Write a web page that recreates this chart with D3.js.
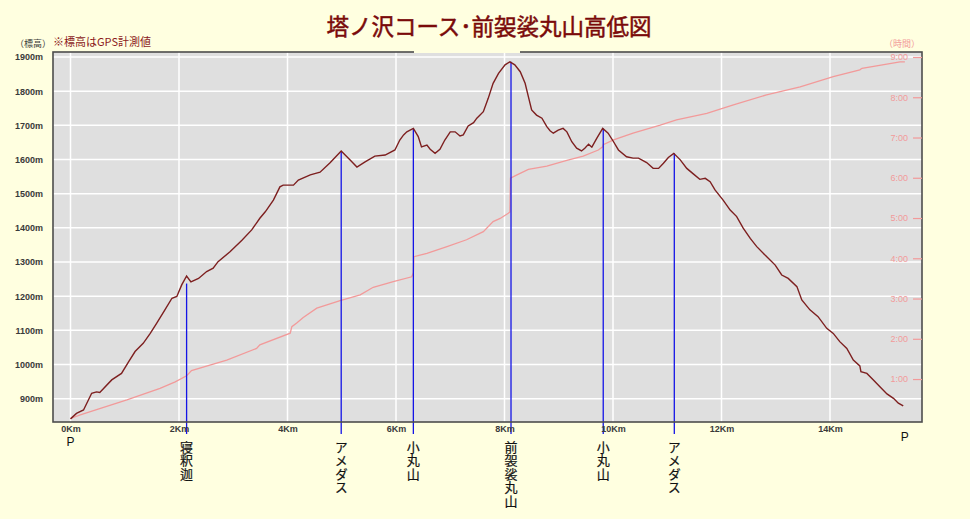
<!DOCTYPE html>
<html>
<head>
<meta charset="utf-8">
<script src="https://cdn.jsdelivr.net/npm/d3@7"></script>
<style>
  html, body { margin: 0; padding: 0; background: #ffffe0; }
  svg { display: block; }
</style>
</head>
<body>
<svg id="chart" width="970" height="519"></svg>
<script>
// ---- data ----
const titleText = "塔ノ沢コース･前袈裟丸山高低図";
const noteText = "※標高はGPS計測値";
const leftUnit = "（標高）";
const rightUnit = "（時間）";

const distKm = [0.00,0.11,0.24,0.39,0.48,0.54,0.76,0.94,1.07,1.19,1.34,1.47,1.59,1.74,1.87,1.96,2.05,2.14,2.22,2.36,2.51,2.63,2.72,2.94,3.16,3.34,3.49,3.59,3.74,3.86,3.92,4.11,4.20,4.42,4.60,4.78,4.99,5.15,5.28,5.43,5.61,5.80,5.98,6.07,6.14,6.20,6.32,6.41,6.47,6.57,6.63,6.72,6.81,6.90,7.00,7.09,7.18,7.24,7.33,7.43,7.49,7.61,7.70,7.79,7.89,8.01,8.10,8.19,8.29,8.38,8.44,8.50,8.59,8.69,8.78,8.84,8.90,8.99,9.08,9.15,9.24,9.33,9.42,9.48,9.55,9.61,9.70,9.81,9.91,10.01,10.10,10.25,10.37,10.47,10.62,10.74,10.84,10.93,11.02,11.12,11.24,11.36,11.48,11.60,11.70,11.79,11.88,12.03,12.16,12.28,12.40,12.53,12.65,12.83,12.99,13.11,13.23,13.39,13.48,13.63,13.78,13.94,14.06,14.18,14.31,14.43,14.55,14.57,14.68,14.80,14.92,15.05,15.17,15.26,15.35];
const elevM = [841,857,867,916,920,918,955,974,1008,1038,1062,1091,1121,1160,1194,1199,1233,1259,1242,1252,1272,1282,1301,1330,1364,1394,1428,1447,1481,1520,1525,1525,1540,1555,1563,1590,1625,1599,1578,1593,1610,1613,1628,1657,1672,1681,1691,1667,1637,1642,1630,1618,1630,1657,1681,1681,1669,1672,1698,1708,1721,1740,1779,1823,1852,1877,1886,1877,1857,1823,1784,1745,1730,1721,1696,1684,1677,1686,1691,1681,1652,1633,1625,1633,1645,1636,1662,1691,1677,1652,1628,1608,1604,1604,1591,1574,1574,1589,1606,1618,1599,1574,1558,1542,1545,1535,1511,1481,1452,1433,1399,1369,1345,1316,1291,1262,1252,1228,1189,1160,1140,1106,1091,1067,1047,1013,996,979,974,955,935,914,901,887,879];

const timeKm = [0.00,0.18,1.04,1.65,1.93,2.14,2.23,2.88,3.43,3.49,4.05,4.08,4.17,4.29,4.54,4.97,5.34,5.58,5.95,6.29,6.32,6.33,6.57,6.94,7.30,7.61,7.79,7.92,8.07,8.10,8.11,8.23,8.44,8.78,9.15,9.45,9.73,9.81,9.82,10.01,10.37,10.87,11.17,11.73,12.22,12.83,13.45,14.06,14.55,14.59,15.29,15.38];
const timeH = [0.02,0.11,0.48,0.77,0.93,1.08,1.21,1.47,1.76,1.85,2.14,2.30,2.39,2.53,2.76,2.95,3.09,3.28,3.42,3.54,3.64,4.04,4.12,4.29,4.46,4.66,4.91,4.99,5.12,5.15,5.99,6.07,6.21,6.29,6.43,6.54,6.69,6.77,6.82,6.94,7.11,7.31,7.44,7.60,7.81,8.06,8.26,8.51,8.68,8.72,8.88,8.88];

const markerNames = ["寝釈迦","アメダス","小丸山","前袈裟丸山","小丸山","アメダス"];
const markerKm = [2.14,4.99,6.32,8.12,9.82,11.13];
const markerElev = [1237,1625,1691,1886,1691,1618];

const elevTicks = [900,1000,1100,1200,1300,1400,1500,1600,1700,1800,1900];
const kmTicks = [0,2,4,6,8,10,12,14];
const timeTicks = [1,2,3,4,5,6,7,8,9];
const startLabel = "P", endLabel = "P";

// ---- layout ----
const L = 53, R = 922, T = 52, B = 422;
const latin = "'Liberation Sans', Arial, sans-serif";
const cjk = "'Noto Sans CJK JP', 'Noto Sans', sans-serif";

const x = d3.scaleLinear().domain([0, 14]).range([70.5, 830]);
const y = d3.scaleLinear().domain([900, 1900]).range([398.7, 57]);
const yt = d3.scaleLinear().domain([0, 9]).range([419.3, 57]);

const svg = d3.select("#chart");
svg.append("rect").attr("width", 970).attr("height", 519).attr("fill", "#ffffe0");

// plot background
svg.append("rect").attr("x", L).attr("y", T).attr("width", R - L).attr("height", B - T).attr("fill", "#dfdfdf");

// grid
const g = svg.append("g");
g.selectAll(".vg").data(kmTicks).join("line")
  .attr("x1", d => x(d)).attr("x2", d => x(d)).attr("y1", T).attr("y2", B)
  .attr("stroke", "#ffffff").attr("stroke-width", 1.5);
g.selectAll(".hg").data(elevTicks).join("line")
  .attr("x1", L).attr("x2", R).attr("y1", d => y(d)).attr("y2", d => y(d))
  .attr("stroke", "#ffffff").attr("stroke-width", 1.5);

// time line
svg.append("path")
  .datum(timeKm.map((k, i) => [k, timeH[i]]))
  .attr("fill", "none").attr("stroke", "#f29a9a").attr("stroke-width", 1.3)
  .attr("d", d3.line().x(d => x(d[0])).y(d => yt(d[1])));

// marker lines
svg.selectAll(".mk").data(markerKm).join("line")
  .attr("x1", d => x(d)).attr("x2", d => x(d))
  .attr("y1", (d, i) => y(markerElev[i])).attr("y2", 434)
  .attr("stroke", "#1414e6").attr("stroke-width", 1.3);

// elevation line
svg.append("path")
  .datum(distKm.map((k, i) => [k, elevM[i]]))
  .attr("fill", "none").attr("stroke", "#7d1f1f").attr("stroke-width", 1.4)
  .attr("d", d3.line().x(d => x(d[0])).y(d => y(d[1])));

// border
svg.append("rect").attr("x", L).attr("y", T).attr("width", R - L).attr("height", B - T)
  .attr("fill", "none").attr("stroke", "#4d4d4d").attr("stroke-width", 1.6);
// title box gap over top border
svg.append("rect").attr("x", 414).attr("y", 49).attr("width", 106).attr("height", 4).attr("fill", "#ffffe0");

// left axis
const ax = svg.append("g").attr("transform", `translate(${L},0)`)
  .call(d3.axisLeft(y).tickValues(elevTicks).tickSize(0).tickPadding(10).tickFormat(d => d + "m"));
ax.select(".domain").remove();
ax.selectAll("text").attr("font-family", latin).attr("font-size", 9).attr("font-weight", "bold").attr("fill", "#3a3a3a");

// bottom axis
const bx = svg.append("g").attr("transform", `translate(0,${B})`)
  .call(d3.axisBottom(x).tickValues(kmTicks).tickSize(0).tickPadding(3.5).tickFormat(d => d + "Km"));
bx.select(".domain").remove();
bx.selectAll("text").attr("font-family", latin).attr("font-size", 9).attr("font-weight", "bold").attr("fill", "#3a3a3a");

// right (time) axis
const rx = svg.append("g").attr("transform", `translate(${R},0)`)
  .call(d3.axisLeft(yt).tickValues(timeTicks).tickSize(9).tickPadding(5).tickFormat(d => d + ":00"));
rx.select(".domain").remove();
rx.selectAll("line").attr("stroke", "#f29a9a").attr("stroke-width", 1.2);
rx.selectAll("text").attr("font-family", latin).attr("font-size", 9).attr("fill", "#f29a9a");

// unit labels
svg.append("text").attr("x", 33).attr("y", 43.5).attr("text-anchor", "middle").attr("dominant-baseline", "central")
  .attr("font-family", cjk).attr("font-size", 9).attr("fill", "#3a3a3a").text(leftUnit);
svg.append("text").attr("x", 902).attr("y", 43.5).attr("text-anchor", "middle").attr("dominant-baseline", "central")
  .attr("font-family", cjk).attr("font-size", 9).attr("fill", "#f29a9a").text(rightUnit);
svg.append("text").attr("x", 53).attr("y", 41).attr("dominant-baseline", "central")
  .attr("font-family", cjk).attr("font-size", 11).attr("fill", "#8b1a1a").text(noteText);

// title
svg.append("text").attr("x", 489).attr("y", 24.5).attr("text-anchor", "middle").attr("dominant-baseline", "central")
  .attr("font-family", cjk).attr("font-size", 22.5).attr("fill", "#7a0a0a")
  .attr("stroke", "#7a0a0a").attr("stroke-width", 0.5).text(titleText);

// start / end P
svg.append("text").attr("x", x(distKm[0])).attr("y", 442).attr("text-anchor", "middle").attr("dominant-baseline", "central")
  .attr("font-family", latin).attr("font-size", 12).attr("fill", "#111").text(startLabel);
svg.append("text").attr("x", x(timeKm[timeKm.length - 1])).attr("y", 437).attr("text-anchor", "middle").attr("dominant-baseline", "central")
  .attr("font-family", latin).attr("font-size", 12).attr("fill", "#111").text(endLabel);

// vertical marker labels (single vertical text per marker)
svg.append("g").selectAll("text").data(markerNames).join("text")
  .attr("x", (d, i) => x(markerKm[i])).attr("y", 440.5)
  .attr("writing-mode", "vertical-rl")
  .style("text-orientation", "upright")
  .style("letter-spacing", "0.5px")
  .attr("font-family", cjk).attr("font-size", 13).attr("fill", "#111")
  .attr("stroke", "#111").attr("stroke-width", 0.2)
  .text(d => d);
</script>
</body>
</html>
